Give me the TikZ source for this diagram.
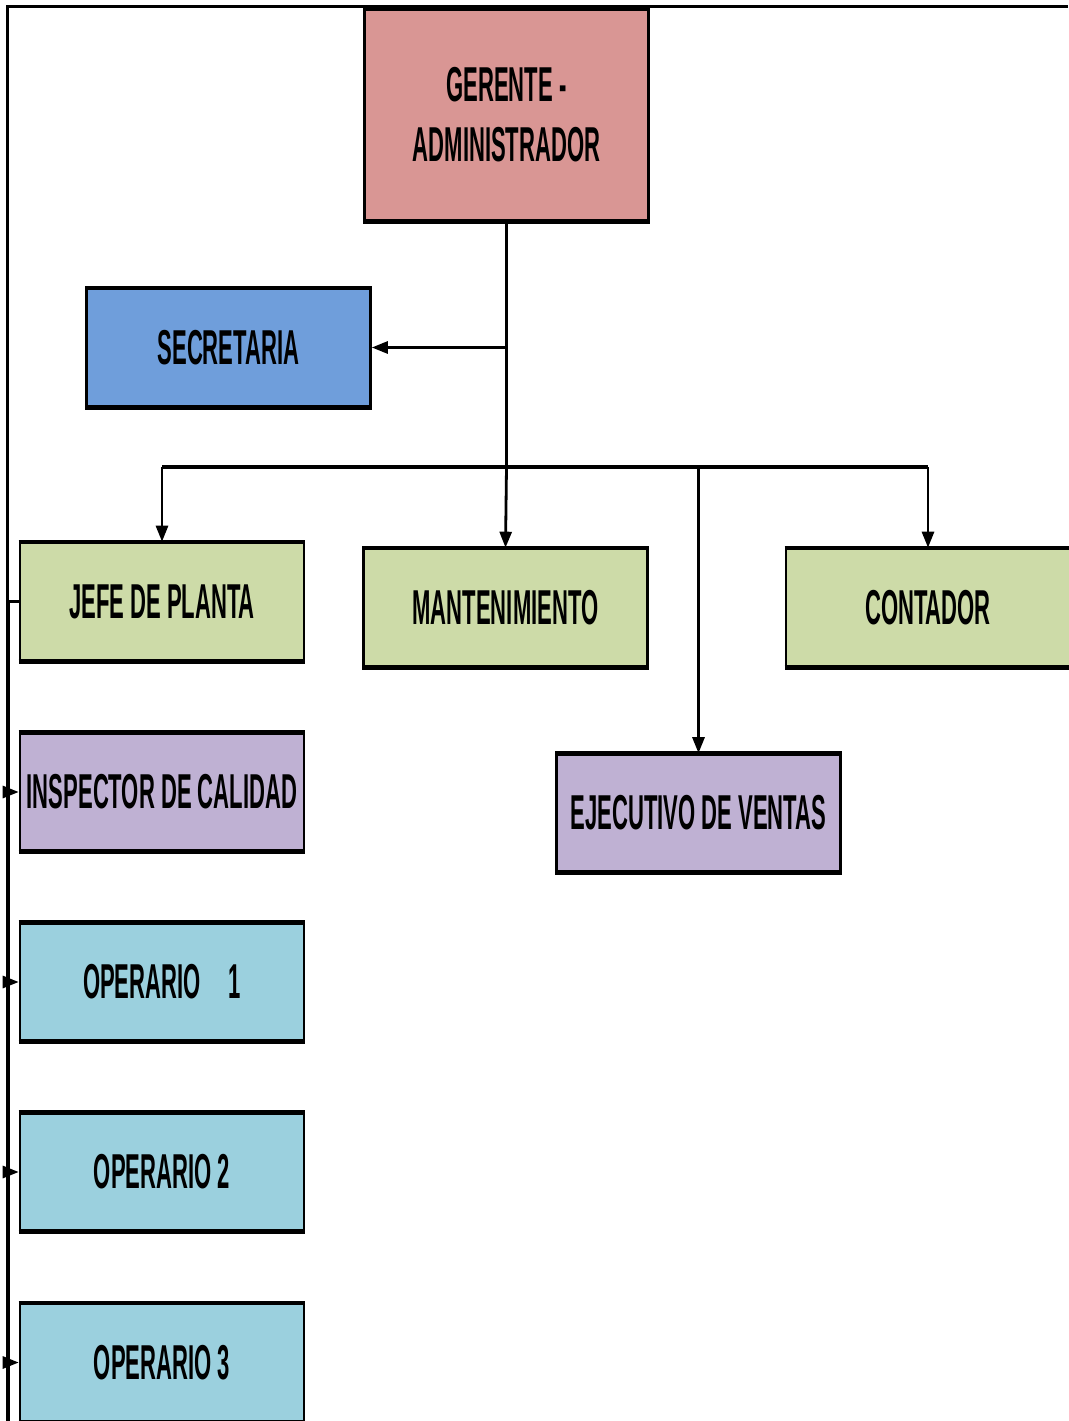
\documentclass[tikz,border=0pt]{standalone}
\usepackage{fontspec}
\setmainfont{Liberation Sans}
\newfontfamily\boxfont{Liberation Sans}[FakeStretch=0.45]
\usetikzlibrary{arrows.meta}
\definecolor{cgerente}{HTML}{D99694}
\definecolor{csec}{HTML}{6F9EDB}
\definecolor{cgreen}{HTML}{CDDBA8}
\definecolor{cpurple}{HTML}{BFB1D3}
\definecolor{ccyan}{HTML}{9BD0DE}
\tikzset{
  box/.style={draw=black, line width=2.6pt, minimum width=284pt, minimum height=117pt,
    inner sep=0pt, align=center, font=\boxfont\bfseries\fontsize{49}{60}\selectfont},
  conn/.style={draw=black, line width=2.8pt},
  arr/.style={conn, -{Triangle[length=16pt,width=12pt]}},
  frame/.style={draw=black, line width=3pt}
}
\begin{document}
\begin{tikzpicture}[x=1pt,y=-1pt]
\useasboundingbox (0,0) rectangle (1068,1421);
% outer frame (top and left)
\draw[frame] (1068,7) -- (7,7) -- (7,1421);
% boxes
\node[box, fill=cgerente, minimum height=210pt] (ger) at (506.5,115) {GERENTE -\\ADMINISTRADOR};
\node[box, fill=csec] (sec) at (228.5,347.5) {SECRETARIA};
\node[box, fill=cgreen] (jefe) at (162,601.5) {JEFE DE PLANTA};
\node[box, fill=cgreen] (mant) at (505.5,607.5) {MANTENIMIENTO};
\node[box, fill=cgreen] (cont) at (928,607.5) {CONTADOR};
\node[box, fill=cpurple] (insp) at (162,792) {INSPECTOR DE CALIDAD};
\node[box, fill=cpurple] (ejec) at (698.5,813) {EJECUTIVO DE VENTAS};
\node[box, fill=ccyan] (op1) at (162,982) {OPERARIO\hspace{28pt}1};
\node[box, fill=ccyan] (op2) at (162,1172) {OPERARIO 2};
\node[box, fill=ccyan] (op3) at (162,1362.5) {OPERARIO 3};
% thicker top/bottom edges
\foreach \n in {ger,sec,jefe,mant,cont,insp,ejec,op1,op2,op3}{
  \draw[line width=4pt] (\n.north west) -- (\n.north east);
  \draw[line width=4.5pt] (\n.south west) -- (\n.south east);
}
% bus coordinates
\coordinate (busL) at (162,467);
\coordinate (busM) at (506.5,467);
\coordinate (busE) at (698.5,467);
\coordinate (busR) at (928,467);
\coordinate (lt) at (9,601.5);
\coordinate (lb) at (9,1421);
% connectors
\draw[conn] (ger.south) -- (busM);
\draw[arr] (ger.south |- sec.east) -- (sec.east);
\draw[conn, line width=4.2pt] (busL) -- (busE);
\draw[conn, line width=3.4pt] (busE) -- (busR);
\draw[arr] (busL) -- (jefe.north);
\draw[arr] (busM) -- (mant.north);
\draw[arr] (busR) -- (cont.north);
\draw[arr] (busE) -- (ejec.north);
\draw[conn] (jefe.west) -- (lt) -- (lb);
\draw[arr] (lt |- insp.west) -- (insp.west);
\draw[arr] (lt |- op1.west) -- (op1.west);
\draw[arr] (lt |- op2.west) -- (op2.west);
\draw[arr] (lt |- op3.west) -- (op3.west);
\end{tikzpicture}
\end{document}
